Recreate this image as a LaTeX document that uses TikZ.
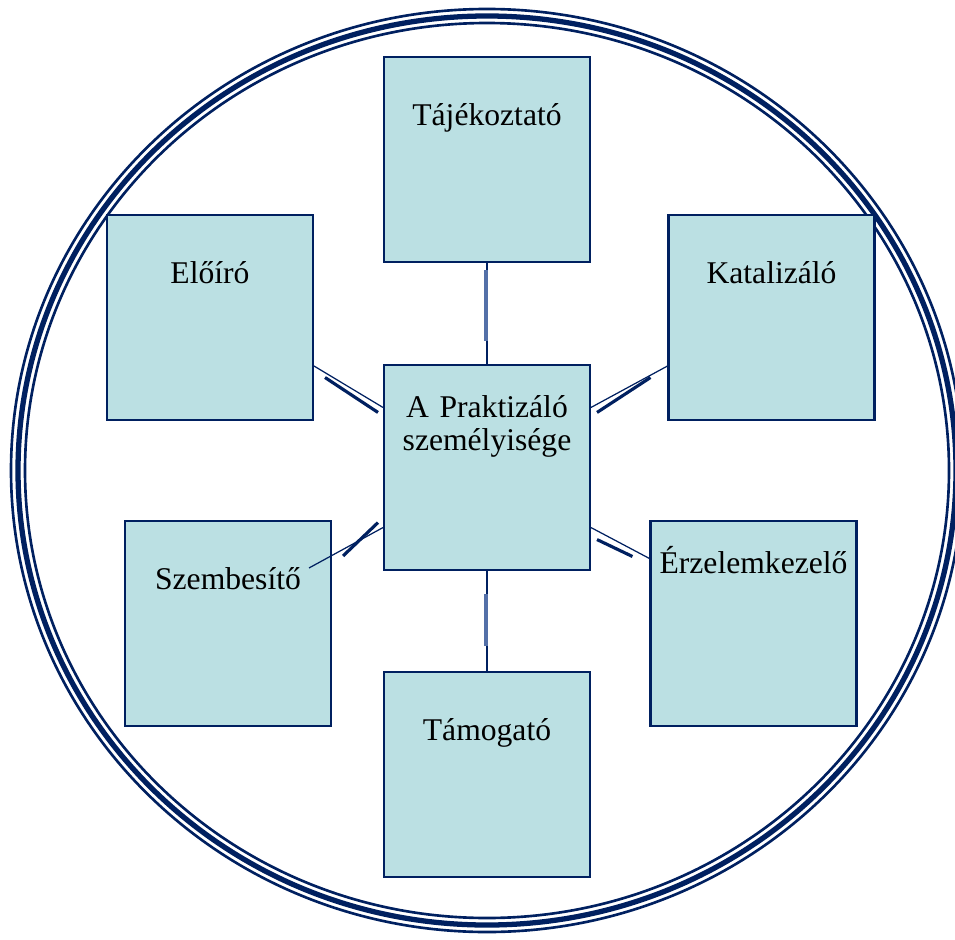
\documentclass[tikz,border=0pt]{standalone}
\usepackage{fontspec}
\setmainfont{Liberation Serif}
\usetikzlibrary{calc}
\definecolor{navy}{RGB}{0,32,96}
\definecolor{boxfill}{RGB}{187,224,227}
\definecolor{barblue}{RGB}{84,112,168}
\begin{document}
\begin{tikzpicture}[x=0.02cm, y=-0.02cm,
	rolebox/.style={draw=navy, fill=boxfill, line width=1.2pt, inner sep=0pt, text width=4.12cm, align=center, font=\fontsize{18}{18.8}\selectfont, text height=1.36cm, text depth=2.74cm},
	highbox/.style={rolebox, text height=1.04cm, text depth=3.06cm},
	link/.style={draw=navy, line width=0.7pt},
	bar/.style={draw=navy, line width=1.8pt},
	softbar/.style={draw=barblue, line width=2.2pt}]
	\useasboundingbox (0,0) rectangle (955,939);
	\draw[navy, line width=1.5pt] (487,470.5) ellipse [x radius=476, y radius=461.5];
	\draw[navy, line width=3pt] (487,470.5) ellipse [x radius=469, y radius=454.5];
	\draw[navy, line width=1.5pt] (487,470.5) ellipse [x radius=462, y radius=447.5];
	\node[rolebox] (taj) at (487,159.5) {Tájékoztató};
	\node[rolebox] (elo) at (210,317.5) {Előíró};
	\node[rolebox] (kat) at (771.5,317.5) {Katalizáló};
	\node[highbox] (pr) at (487,467.5) {A Praktizáló\\személyisége};
	\node[rolebox] (sze) at (228,623.5) {Szembesítő};
	\node[highbox] (erz) at (753.5,623.5) {Érzelemkezelő};
	\node[rolebox] (tam) at (487,774.5) {Támogató};
	\draw[link] (taj.south) -- (pr.north);
	\draw[softbar] ($(taj.south)+(-1,7)$) -- ($(pr.north)+(-1,-23)$);
	\draw[link] (pr.south) -- (tam.north);
	\draw[softbar] ($(pr.south)+(-1,23)$) -- ($(tam.north)+(-1,-25)$);
	\draw[link] (elo.-25) -- (pr.150);
	\draw[bar] ($(elo.-25)+(11,11.5)$) -- ($(pr.150)+(-5,5)$);
	\draw[link] (pr.30) -- (kat.205);
	\draw[bar] ($(pr.30)+(6,5)$) -- ($(kat.205)+(-17,11.5)$);
	\draw[link] ($(sze.north east)+(-23,48)$) -- (pr.210);
	\draw[bar] ($(sze.north east)+(11,36)$) -- ($(pr.210)+(-5,-5)$);
	\draw[link] (pr.-30) -- (erz.148);
	\draw[bar] ($(pr.-30)+(6,12)$) -- ($(erz.148)+(-17,-2)$);
\end{tikzpicture}
\end{document}
